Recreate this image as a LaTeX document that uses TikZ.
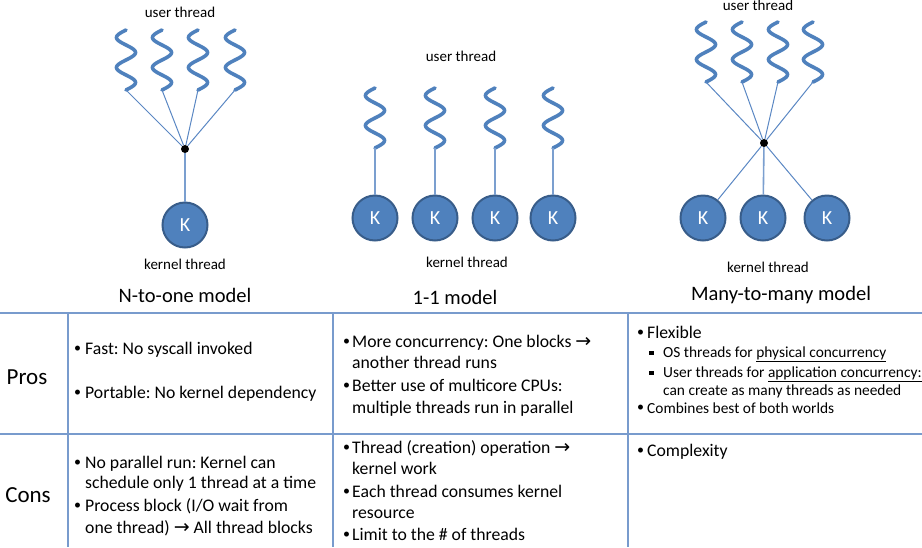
\documentclass[tikz,border=0pt]{standalone}
\usepackage{fontspec}
\setmainfont{Carlito}
\newfontfamily\arrowfont{DejaVu Sans}
\frenchspacing
\definecolor{ublue}{RGB}{79,129,189}
\definecolor{kedge}{RGB}{56,93,138}
\definecolor{tline}{RGB}{120,155,205}
\definecolor{cline}{RGB}{90,135,195}
\newcommand\bul[1]{\makebox[#1][l]{\raisebox{2.2pt}{\fontsize{14}{14}\selectfont •}}}
\newcommand\arr{{\arrowfont\fontsize{19}{19}\selectfont →}}
\newcommand\sqb{\makebox[14pt][l]{\raisebox{2.8pt}{\rule{4.4pt}{4.4pt}}}}
\tikzset{
  squigl/.style={draw=ublue, line width=3.6pt, line cap=round},
  squig/.pic={\draw[squigl] plot[domain=0:60, samples=80, smooth] ({-9.5*sin(\x*12)}, \x);
              \coordinate (-b) at (0,60);},
  conn/.style={draw=cline, line width=1pt},
  vconn/.style={draw=cline!80, line width=1.6pt},
  dotn/.style={circle, fill=black, minimum size=8pt, inner sep=0pt},
  knode/.style={circle, draw=kedge, line width=2pt, fill=ublue, minimum size=45pt, inner sep=0pt, text=white, font=\fontsize{20}{20}\selectfont},
  lab/.style={anchor=base, inner sep=0pt, font=\fontsize{15}{15}\selectfont},
  ttl/.style={anchor=base, inner sep=0pt, font=\fontsize{20.5}{20.5}\selectfont},
  hdr/.style={anchor=base, inner sep=0pt, font=\fontsize{23}{23}\selectfont},
  cell/.style={anchor=base west, inner sep=0pt, font=\fontsize{17.7}{21}\selectfont},
  subcell/.style={anchor=base west, inner sep=0pt, font=\fontsize{15.4}{18}\selectfont},
  tl/.style={draw=tline, line width=1.5pt},
}
\begin{document}
\begin{tikzpicture}[x=1pt, y=-1pt]
\useasboundingbox (0,0) rectangle (922,547);
% ---------- N-to-one ----------
\node[lab] (ut1) at (180,17) {user thread};
\pic (a1) at (126,30) {squig};
\pic (a2) at (162,30) {squig};
\pic (a3) at (198,30) {squig};
\pic (a4) at (235,30) {squig};
\node[dotn] (d1) at (185,149) {};
\foreach \i in {1,...,4} \draw[conn] (a\i-b) -- (d1);
\node[knode] (k1) at (185,225) {K};
\draw[vconn] (d1) -- (k1);
\node[lab] (kt1) at (185,269.5) {kernel thread};
\node[ttl] (t1) at (185,302) {N-to-one model};
% ---------- 1-1 ----------
\node[lab] (ut2) at (461,61.5) {user thread};
\pic (b1) at (375,88) {squig};
\pic (b2) at (435,88) {squig};
\pic (b3) at (495,88) {squig};
\pic (b4) at (553,88) {squig};
\node[knode] (m1) at (375,218) {K};
\node[knode] (m2) at (435,218) {K};
\node[knode] (m3) at (495,218) {K};
\node[knode] (m4) at (553,218) {K};
\foreach \i in {1,...,4} \draw[vconn] (b\i-b) -- (m\i);
\node[lab] (kt2) at (467,267.5) {kernel thread};
\node[ttl] (t2) at (455,304) {1-1 model};
% ---------- Many-to-many ----------
\node[lab] (ut3) at (758,10.5) {user thread};
\pic (c1) at (706,22) {squig};
\pic (c2) at (742,22) {squig};
\pic (c3) at (778,22) {squig};
\pic (c4) at (813,22) {squig};
\node[dotn] (d3) at (764,143) {};
\foreach \i in {1,...,4} \draw[conn] (c\i-b) -- (d3);
\node[knode] (r1) at (703,218) {K};
\node[knode] (r2) at (763,218) {K};
\node[knode] (r3) at (827,218) {K};
\draw[conn] (d3) -- (r1);
\draw[vconn] (d3) -- (r2);
\draw[conn] (d3) -- (r3);
\node[lab] (kt3) at (768,272.5) {kernel thread};
\node[ttl] (t3) at (781,300) {Many-to-many model};
% ---------- table ----------
\draw[tl] (0,313) -- (922,313);
\draw[tl] (0,434) -- (922,434);
\draw[tl] (68,313) -- (68,547);
\draw[tl] (333,313) -- (333,547);
\draw[tl] (628,313) -- (628,547);
\node[hdr] (pros) at (27,384) {Pros};
\node[hdr] (cons) at (28,502) {Cons};
% col 1
\node[cell] (p11) at (74,354.5) {\bul{11pt}Fast: No syscall invoked};
\node[cell] (p12) at (74,398.5) {\bul{11pt}Portable: No kernel dependency};
\node[cell] (c11) at (74,468.5) {\bul{11pt}No parallel run: Kernel can};
\node[cell] (c12) at (85,488.5) {schedule only 1 thread at a time};
\node[cell] (c13) at (74,511.5) {\bul{11pt}Process block (I/O wait from};
\node[cell] (c14) at (85,533.5) {one thread) \arr{} All thread blocks};
% col 2
\node[cell] (p21) at (343,347.5) {\bul{9pt}More concurrency: One blocks \arr};
\node[cell] (p22) at (352,368.5) {another thread runs};
\node[cell] (p23) at (343,391.5) {\bul{9pt}Better use of multicore CPUs:};
\node[cell] (p24) at (352,413.5) {multiple threads run in parallel};
\node[cell] (c21) at (343,453.5) {\bul{9pt}Thread (creation) operation \arr};
\node[cell] (c22) at (352,474.5) {kernel work};
\node[cell] (c23) at (343,497.5) {\bul{9pt}Each thread consumes kernel};
\node[cell] (c24) at (352,518.5) {resource};
\node[cell] (c25) at (343,540.5) {\bul{9pt}Limit to the \# of threads};
% col 3
\node[cell] (p31) at (637,338.5) {\bul{10pt}Flexible};
\node[subcell] (p32) at (649,357.7) {\sqb OS threads for \underline{physical concurrency}};
\node[subcell] (p33) at (649,377.7) {\sqb User threads for \underline{application concurrency:}};
\node[subcell] (p34) at (663,395.7) {can create as many threads as needed};
\node[subcell] (p35) at (637,413.7) {\bul{10pt}Combines best of both worlds};
\node[cell] (c31) at (637,456.5) {\bul{10pt}Complexity};
\end{tikzpicture}
\end{document}
